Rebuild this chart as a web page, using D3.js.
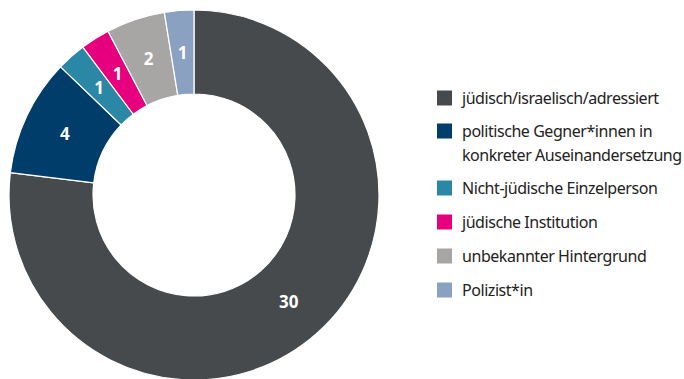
<!DOCTYPE html>
<html><head><meta charset="utf-8">
<script src="https://cdn.jsdelivr.net/npm/d3@7"></script>
<style>body{margin:0;background:#fff}svg{display:block}</style>
</head><body>
<script>
const categories = ["jüdisch/israelisch/adressiert", "politische Gegner*innen in\nkonkreter Auseinandersetzung", "Nicht-jüdische Einzelperson", "jüdische Institution", "unbekannter Hintergrund", "Polizist*in"];
const values = [30, 4, 1, 1, 2, 1];
const colors = ["#464a4c", "#003d6b", "#2a87a5", "#e6007e", "#a8a5a5", "#8aa1c1"];

const W = 684, H = 379;
const svg = d3.select("body").append("svg").attr("width", W).attr("height", H);
const cx = 194, cy = 195, rOuter = 185, rInner = 101;
const pie = d3.pie().sort(null).value(d => d)(values);
const arc = d3.arc().innerRadius(rInner).outerRadius(rOuter);
const g = svg.append("g").attr("transform", `translate(${cx},${cy})`);
g.selectAll("path").data(pie).join("path")
  .attr("d", arc).attr("fill", (d, i) => colors[i])
  .attr("stroke", "#fff").attr("stroke-width", 1.2);
g.selectAll("text").data(pie).join("text")
  .attr("transform", d => `translate(${arc.centroid(d)})`)
  .attr("text-anchor", "middle").attr("dy", "0.36em")
  .attr("fill", "#fff").attr("font-family", "'Noto Sans', sans-serif")
  .attr("font-weight", "bold").attr("font-size", 17)
  .text(d => d.data);

const rowsY = [98, 131, 188, 222, 256, 290];
const lg = svg.append("g");
categories.forEach((c, i) => {
  const y = rowsY[i];
  lg.append("rect").attr("x", 437).attr("y", y - 7.5).attr("width", 15).attr("height", 15).attr("fill", colors[i]);
  const lines = c.split("\n");
  const t = lg.append("text").attr("x", 462).attr("y", y)
    .attr("font-family", "'Noto Sans', sans-serif").attr("font-size", 16)
    .attr("letter-spacing", -0.45).attr("fill", "#222");
  lines.forEach((l, j) => t.append("tspan").attr("x", 462).attr("dy", j === 0 ? "0.35em" : 24).text(l));
});
</script>
</body></html>
